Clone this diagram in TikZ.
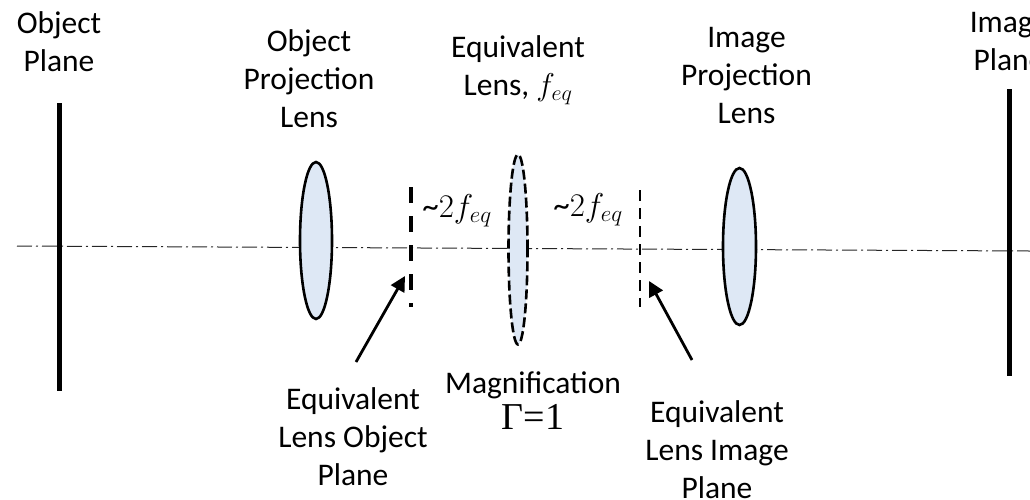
\RequirePackage{fix-cm}
\documentclass[tikz,border=0pt]{standalone}
\usepackage{fontspec}
\setmainfont{Carlito}
\newfontfamily\gammafont{Liberation Serif}
\usetikzlibrary{arrows.meta,shapes.geometric}
\definecolor{lensfill}{RGB}{222,232,245}
\tikzset{
  lbl/.style={align=center,font=\fontsize{31.5}{38}\selectfont,inner sep=0pt,anchor=center},
  mth/.style={font=\fontsize{33}{36}\selectfont,inner sep=0pt,anchor=center},
  plane/.style={line width=5.8pt},
  lens/.style={draw=black,fill=lensfill,ellipse,inner sep=0pt,line width=2.6pt},
  axisline/.style={line width=1pt,draw=black!85,dash pattern=on 15pt off 4pt on 2pt off 4pt},
  pointer/.style={line width=2.8pt,-{Triangle[length=15pt,width=15pt]}}
}
\begin{document}
\begin{tikzpicture}[x=1pt,y=-1pt]
\useasboundingbox (0,0) rectangle (1030,499);
% axis
\coordinate (axL) at (17,246);
\coordinate (axR) at (1030,251);
\draw[axisline] (axL) -- (axR);
% planes
\coordinate (opT) at (59.5,103); \coordinate (opB) at (59.5,391);
\coordinate (ipT) at (1009.5,89); \coordinate (ipB) at (1009.5,376);
\draw[plane] (opT) -- (opB);
\draw[plane] (ipT) -- (ipB);
% lenses
\node[lens,minimum width=32pt,minimum height=157pt] (lensA) at (316,240.5) {};
\node[lens,minimum width=33pt,minimum height=157pt] (lensC) at (739.5,246.5) {};
\node[lens,dash pattern=on 10pt off 4pt,minimum width=19pt,minimum height=190pt] (lensB) at (518,249.5) {};
% equivalent planes
\coordinate (eoT) at (411,187); \coordinate (eoB) at (411,307);
\coordinate (eiT) at (640,190); \coordinate (eiB) at (640,307);
\draw[line width=4.2pt,dash pattern=on 16pt off 13pt] (eoT) -- (eoB);
\draw[line width=2.4pt,dash pattern=on 11pt off 7pt] (eiT) -- (eiB);
% labels
\node[lbl] (tObjPlane) at (59,42) {Object\\Plane};
\node[lbl] (tObjLens) at (309,79) {Object\\Projection\\Lens};
\node[lbl] (tEqLens) at (518,70) {Equivalent\\Lens, $f_{eq}$};
\node[lbl] (tImgLens) at (746.5,76) {Image\\Projection\\Lens};
\node[lbl] (tImgPlane) at (1009,42) {Image\\Plane};
\node[mth] (tDistA) at (457,211) {\textasciitilde$2f_{eq}$};
\node[mth] (tDistB) at (588,210) {\textasciitilde$2f_{eq}$};
\node[lbl] (tEqObj) at (353,437) {Equivalent\\Lens Object\\Plane};
\node[lbl] (tEqImg) at (717,450) {Equivalent\\Lens Image\\Plane};
\node[lbl] (tMag) at (533,401) {Magnification\\[-2pt]{\gammafont\fontsize{38}{38}\selectfont Γ=1}};
% pointers
\coordinate (pAs) at (356,362); \coordinate (pAe) at (405,276);
\coordinate (pBs) at (692,360); \coordinate (pBe) at (649,281);
\draw[pointer] (pAs) -- (pAe);
\draw[pointer] (pBs) -- (pBe);
\end{tikzpicture}
\end{document}
